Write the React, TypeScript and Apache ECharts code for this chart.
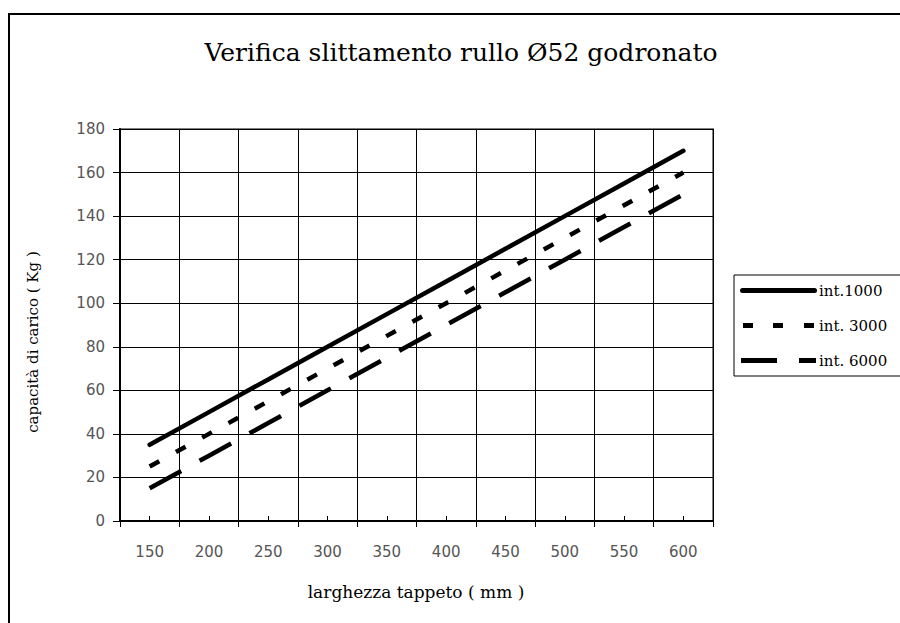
import React, { useEffect, useRef } from "react";
import * as echarts from "echarts";

const categories = ["150", "200", "250", "300", "350", "400", "450", "500", "550", "600"];
const int1000 = [35, 50, 65, 80, 95, 110, 125, 140, 155, 170];
const int3000 = [25, 40, 55, 70, 85, 100, 115, 130, 145, 160];
const int6000 = [15, 30, 45, 60, 75, 90, 105, 120, 135, 150];
const seriesNames = ["int.1000", "int. 3000", "int. 6000"];
const titleText = "Verifica slittamento rullo Ø52 godronato";
const xName = "larghezza tappeto ( mm )";
const yName = "capacità di carico ( Kg )";

const SERIF = "'DejaVu Serif', 'Liberation Serif', serif";
const SANS = "'DejaVu Sans', sans-serif";

const ICON_SOLID = "path://M2.5,0h72a2.5,2.5 0 0 1 0,5h-72a2.5,2.5 0 0 1 0,-5z";
const ICON_SHORT = "path://M2,0h10v5h-10z M32,0h10v5h-10z M63,0h10v5h-10z";
const ICON_LONG = "path://M2,0h36v5h-36z M60,0h17v5h-17z";

export default function App() {
  const ref = useRef<HTMLDivElement>(null);
  useEffect(() => {
    if (!ref.current) return;
    const chart = echarts.init(ref.current, undefined, { renderer: "svg" });
    chart.setOption({
      animation: false,
      backgroundColor: "#fff",
      grid: {
        left: 120,
        right: 187,
        top: 129,
        bottom: 102,
        show: true,
        borderColor: "#808080",
        borderWidth: 2,
        containLabel: false,
      },
      legend: {
        orient: "vertical",
        left: 734,
        top: 275,
        itemWidth: 77,
        itemHeight: 5,
        itemGap: 20,
        padding: [8, 20, 8, 6],
        borderColor: "#000",
        borderWidth: 1,
        backgroundColor: "#fff",
        textStyle: {
          fontFamily: SERIF,
          fontSize: 15,
          lineHeight: 14,
          color: "#000",
          padding: [0, 0, 0, -3],
        },
        data: [
          { name: seriesNames[0], icon: ICON_SOLID },
          { name: seriesNames[1], icon: ICON_SHORT },
          { name: seriesNames[2], icon: ICON_LONG },
        ],
      },
      xAxis: [
        {
          type: "category",
          data: categories,
          position: "bottom",
          boundaryGap: true,
          axisLine: { lineStyle: { color: "#000", width: 2 } },
          axisTick: { show: true, inside: false, length: 6, lineStyle: { color: "#000", width: 1 } },
          axisLabel: { margin: 23, fontFamily: SANS, fontSize: 15, color: "#555" },
          splitLine: { show: true, lineStyle: { color: "#000", width: 1 } },
        },
        {
          type: "category",
          data: categories,
          position: "bottom",
          boundaryGap: true,
          axisLine: { show: false },
          axisTick: { show: true, inside: true, alignWithLabel: true, length: 5, lineStyle: { color: "#000", width: 1 } },
          axisLabel: { show: false },
          splitLine: { show: false },
        },
      ],
      yAxis: {
        type: "value",
        min: 0,
        max: 180,
        interval: 20,
        axisLine: { show: true, lineStyle: { color: "#000", width: 2 } },
        axisTick: { show: true, inside: false, length: 7, lineStyle: { color: "#000", width: 1 } },
        axisLabel: { margin: 15, fontFamily: SANS, fontSize: 15, color: "#555" },
        splitLine: { show: true, lineStyle: { color: "#000", width: 1 } },
      },
      series: [
        {
          name: seriesNames[0],
          type: "line",
          xAxisIndex: 0,
          data: int1000,
          symbol: "none",
          lineStyle: { color: "#000", width: 4.5, cap: "round" },
          itemStyle: { color: "#000" },
        },
        {
          name: seriesNames[1],
          type: "line",
          xAxisIndex: 0,
          data: int3000,
          symbol: "none",
          lineStyle: { color: "#000", width: 4.5, type: [11, 19], cap: "butt" },
          itemStyle: { color: "#000" },
        },
        {
          name: seriesNames[2],
          type: "line",
          xAxisIndex: 0,
          data: int6000,
          symbol: "none",
          lineStyle: { color: "#000", width: 4.5, type: [36, 21], cap: "butt" },
          itemStyle: { color: "#000" },
        },
      ],
      graphic: [
        {
          type: "rect",
          z: -10,
          silent: true,
          shape: { x: 9, y: 14, width: 1000, height: 1000 },
          style: { fill: "none", stroke: "#000", lineWidth: 2 },
        },
        {
          type: "text",
          x: 461,
          y: 52,
          style: {
            text: titleText,
            fontFamily: SERIF,
            fontSize: 25,
            fill: "#000",
            textAlign: "center",
            textVerticalAlign: "middle",
          },
        },
        {
          type: "text",
          x: 416,
          y: 592,
          style: {
            text: xName,
            fontFamily: SERIF,
            fontSize: 17,
            fill: "#000",
            textAlign: "center",
            textVerticalAlign: "middle",
          },
        },
        {
          type: "text",
          x: 33,
          y: 342,
          rotation: Math.PI / 2,
          style: {
            text: yName,
            fontFamily: SERIF,
            fontSize: 15,
            fill: "#000",
            textAlign: "center",
            textVerticalAlign: "middle",
          },
        },
      ],
    });
    return () => chart.dispose();
  }, []);
  return (
    <div
      ref={ref}
      style={{ position: "absolute", left: 0, top: 0, width: 900, height: 623 }}
    />
  );
}
